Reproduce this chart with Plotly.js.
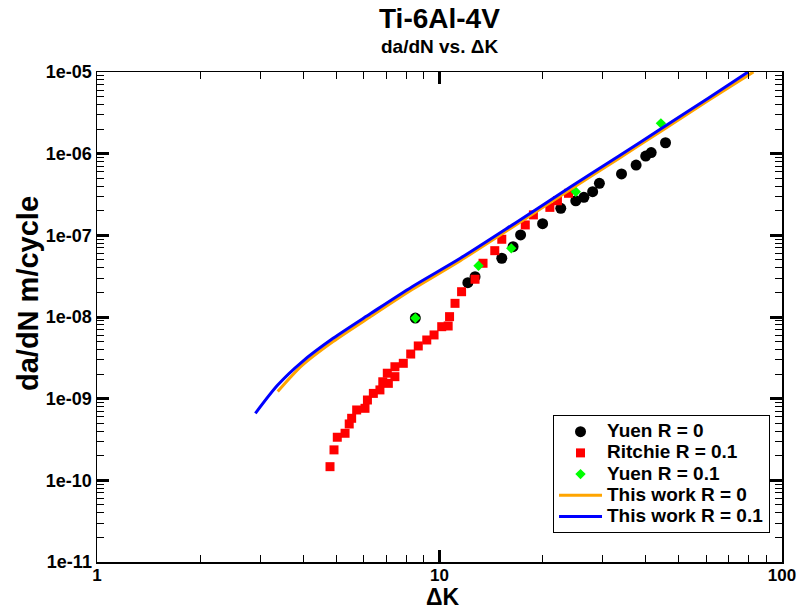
<!DOCTYPE html>
<html>
<head>
<meta charset="utf-8">
<script src="https://cdn.plot.ly/plotly-3.0.1.min.js"></script>
<style>html,body{margin:0;padding:0;background:#fff;}#chart{width:811px;height:613px;}</style>
</head>
<body>
<div id="chart"></div>
<script>
// Yuen R = 0
const yuen0K  = [8.5, 12.1, 12.7, 15.2, 16.4, 17.25, 20.0, 22.6, 25.0, 26.4, 28.0, 29.3, 34.0, 37.5, 40.0, 41.5, 45.7];
const yuen0Da = [9.7e-9, 2.63e-8, 3.12e-8, 5.24e-8, 7.26e-8, 1.01e-7, 1.39e-7, 2.14e-7, 2.65e-7, 2.92e-7, 3.42e-7, 4.33e-7, 5.64e-7, 7.26e-7, 9.35e-7, 1.03e-6, 1.36e-6];

// Ritchie R = 0.1
const ritchieK  = [4.79, 4.92, 5.03, 5.30, 5.45, 5.54, 5.73, 6.06, 6.16, 6.41, 6.70, 6.83, 7.09, 7.04, 7.41, 7.41, 7.84, 8.24, 8.67, 9.18, 9.64, 10.15, 10.6, 10.7, 11.1, 11.6, 12.7, 13.4, 14.5, 15.2, 17.8, 18.8, 21.0, 22.1, 23.8];
const ritchieDa = [1.47e-10, 2.36e-10, 3.37e-10, 3.77e-10, 4.90e-10, 5.75e-10, 7.27e-10, 7.62e-10, 9.63e-10, 1.16e-9, 1.28e-9, 1.61e-9, 1.54e-9, 2.05e-9, 1.86e-9, 2.46e-9, 2.71e-9, 3.52e-9, 4.42e-9, 5.23e-9, 6.03e-9, 7.61e-9, 7.76e-9, 1.01e-8, 1.47e-8, 2.04e-8, 2.90e-8, 4.55e-8, 6.49e-8, 8.95e-8, 1.34e-7, 1.78e-7, 2.20e-7, 2.65e-7, 3.27e-7];

// Yuen R = 0.1
const yuen1K  = [8.5, 13.0, 16.2, 25.0, 44.3];
const yuen1Da = [9.7e-9, 4.25e-8, 6.93e-8, 3.42e-7, 2.35e-6];

// This work R = 0
const work0K  = [3.37, 3.97, 4.89, 6.31, 8.32, 11.5, 16.7, 24.1, 33.4, 44.1, 60.9, 82.5];
const work0Da = [1.22e-9, 2.55e-9, 5.0e-9, 1.02e-8, 2.17e-8, 4.9e-8, 1.34e-7, 3.65e-7, 8.75e-7, 1.86e-6, 4.47e-6, 1.0e-5];

// This work R = 0.1
const work1K  = [2.90, 3.37, 3.97, 4.89, 6.31, 8.32, 11.5, 16.7, 24.1, 33.4, 44.1, 60.9, 79.6];
const work1Da = [6.62e-10, 1.47e-9, 2.83e-9, 5.48e-9, 1.11e-8, 2.35e-8, 5.24e-8, 1.43e-7, 3.90e-7, 9.35e-7, 1.99e-6, 4.78e-6, 1.0e-5];

// Axis ticks
const yTickVals = [1e-11, 1e-10, 1e-9, 1e-8, 1e-7, 1e-6, 1e-5];
const yTickText = ['1e-11', '1e-10', '1e-09', '1e-08', '1e-07', '1e-06', '1e-05'];
const xTickVals = [1, 10, 100];
const xTickText = ['1', '10', '100'];

// Series names
const names = ['Yuen R = 0', 'Ritchie R = 0.1', 'Yuen R = 0.1', 'This work R = 0', 'This work R = 0.1'];

const FONT = 'Liberation Sans, Arial, Helvetica, sans-serif';
const legName = s => '<span style="font-size:19px">' + s + '</span>';

const traces = [
  {x: yuen0K, y: yuen0Da, name: legName(names[0]), mode: 'markers', type: 'scatter',
   marker: {symbol: 'circle', size: 11, color: '#000000'}},
  {x: ritchieK, y: ritchieDa, name: legName(names[1]), mode: 'markers', type: 'scatter',
   marker: {symbol: 'square', size: 9, color: '#ff0000'}},
  {x: yuen1K, y: yuen1Da, name: legName(names[2]), mode: 'markers', type: 'scatter',
   marker: {symbol: 'diamond', size: 8, color: '#00ff00'}},
  {x: work0K, y: work0Da, name: legName(names[3]), mode: 'lines', type: 'scatter',
   line: {color: '#ffa500', width: 3, shape: 'spline', smoothing: 0.8}},
  {x: work1K, y: work1Da, name: legName(names[4]), mode: 'lines', type: 'scatter',
   line: {color: '#0000ff', width: 3, shape: 'spline', smoothing: 0.8}}
];

const axisCommon = {
  showline: true, linecolor: '#000', linewidth: 1.5, mirror: 'allticks',
  ticks: 'inside', ticklen: 12, tickwidth: 3, tickcolor: '#000',
  showgrid: false, zeroline: false,
  minor: {ticks: 'inside', ticklen: 7, tickwidth: 1, tickcolor: '#000', dtick: 'D1', showgrid: false},
  tickfont: {family: FONT, size: 18, color: '#000', weight: 'bold'}
};

const layout = {
  width: 811, height: 613,
  margin: {l: 97, r: 29, t: 72, b: 51},
  paper_bgcolor: '#fff', plot_bgcolor: '#fff',
  showlegend: true,
  xaxis: Object.assign({}, axisCommon, {
    type: 'log', range: [0, 2], tickvals: xTickVals, ticktext: xTickText,
    ticklabelstandoff: -3,
    tickfont: {family: FONT, size: 17, color: '#000', weight: 'bold'}
  }),
  yaxis: Object.assign({}, axisCommon, {
    type: 'log', range: [-11, -5], tickvals: yTickVals, ticktext: yTickText
  }),
  legend: {
    x: 0.9825, y: 0.059, xanchor: 'right', yanchor: 'bottom',
    bgcolor: '#fff', bordercolor: '#000', borderwidth: 1,
    font: {family: FONT, size: 14, color: '#000', weight: 'bold'},
    itemwidth: 43, tracegroupgap: 0
  },
  annotations: [
    {text: 'Ti-6Al-4V', xref: 'paper', yref: 'paper', x: 0.5, y: 1.11, xanchor: 'center', yanchor: 'middle',
     showarrow: false, font: {family: FONT, size: 28, color: '#000', weight: 'bold'}},
    {text: 'da/dN vs. ΔK', xref: 'paper', yref: 'paper', x: 0.5, y: 1.053, xanchor: 'center', yanchor: 'middle',
     showarrow: false, font: {family: FONT, size: 19, color: '#000', weight: 'bold'}},
    {text: 'da/dN m/cycle', xref: 'paper', yref: 'paper', x: -0.1007, y: 0.547, xanchor: 'center', yanchor: 'middle',
     textangle: -90, showarrow: false, font: {family: FONT, size: 29, color: '#000', weight: 'bold'}},
    {text: 'ΔK', xref: 'paper', yref: 'paper', x: 0.505, y: -0.1, xanchor: 'center', yanchor: 'bottom',
     showarrow: false, borderpad: 0, font: {family: FONT, size: 23, color: '#000', weight: 'bold'}}
  ]
};

Plotly.newPlot('chart', traces, layout, {displayModeBar: false, staticPlot: true});
</script>
</body>
</html>
